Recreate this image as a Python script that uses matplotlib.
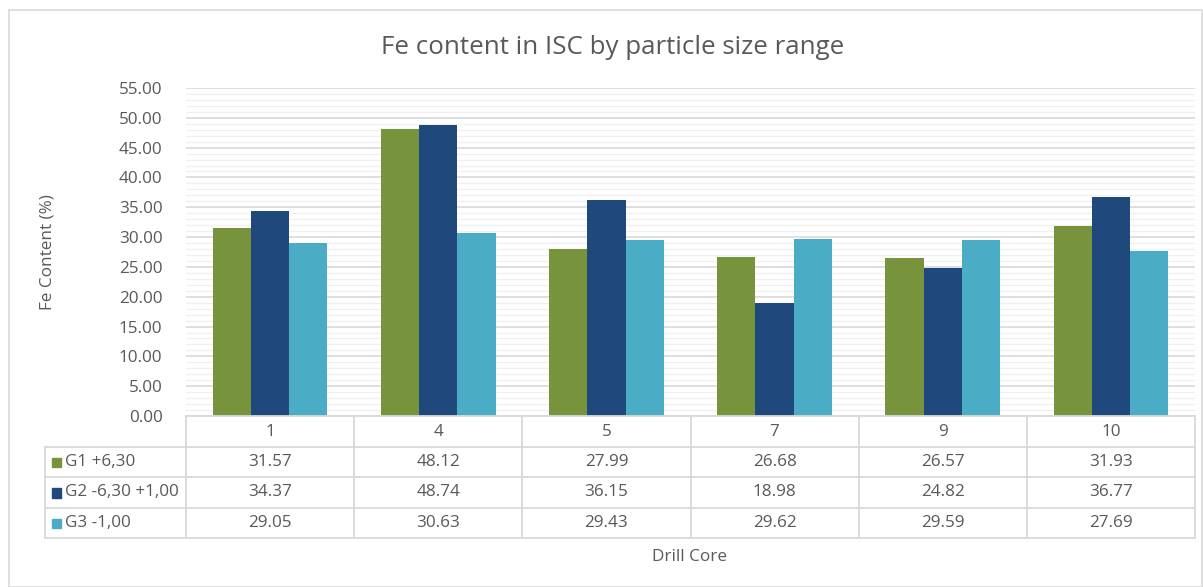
import numpy as np
import matplotlib.pyplot as plt
from matplotlib.patches import Rectangle
from matplotlib.ticker import MultipleLocator

plt.rcParams['font.family'] = ['Open Sans', 'DejaVu Sans']

cores = ['1', '4', '5', '7', '9', '10']
series_names = ['G1 +6,30', 'G2 -6,30 +1,00', 'G3 -1,00']
g1 = [31.57, 48.12, 27.99, 26.68, 26.57, 31.93]
g2 = [34.37, 48.74, 36.15, 18.98, 24.82, 36.77]
g3 = [29.05, 30.63, 29.43, 29.62, 29.59, 27.69]
colors = ['#77933C', '#1F497D', '#4BACC6']

txt = '#595959'
grid_major = '#D9D9D9'
grid_minor = '#F0F0F0'
fs = 12.3

W, H = 1203, 587
fig = plt.figure(figsize=(W / 100, H / 100), dpi=100)

# outer chart border
fig.patches.append(Rectangle((9 / W, 0), (W - 10) / W, (H - 10) / H,
                             transform=fig.transFigure, fill=False,
                             edgecolor='#D9D9D9', lw=1.2))

px0, px1 = 186, 1195
ax = fig.add_axes([px0 / W, 1 - 416 / H, (px1 - px0) / W, (416 - 88) / H])
x = np.arange(len(cores))
bw = 0.227
for i, vals in enumerate([g1, g2, g3]):
    ax.bar(x + (i - 1) * bw, vals, bw, color=colors[i], zorder=3)

ax.set_xlim(-0.5, len(cores) - 0.5)
ax.set_ylim(0, 55)
ax.yaxis.set_major_locator(MultipleLocator(5))
ax.yaxis.set_minor_locator(MultipleLocator(1))
ax.grid(which='major', axis='y', color=grid_major, lw=1.2, zorder=1)
ax.grid(which='minor', axis='y', color=grid_minor, lw=1.0, zorder=0)
ax.set_yticks(np.arange(0, 56, 5))
ax.set_yticklabels([f'{v:.2f}' for v in np.arange(0, 56, 5)])
ax.tick_params(axis='y', which='both', length=0, pad=17, labelsize=fs, labelcolor=txt)
ax.set_xticks([])
for s in ax.spines.values():
    s.set_visible(False)

fig.text(48 / W, 1 - 252 / H, 'Fe Content (%)', rotation=90, ha='center',
         va='center', fontsize=fs, color=txt)
fig.text(613 / W, 1 - 47 / H, 'Fe content in ISC by particle size range',
         ha='center', va='center', fontsize=18.6, color=txt)

# data table under the bars
cat_px = (px1 - px0) / len(cores)
left_w = (px0 - 45) / cat_px
row_px = (538 - 416) / 4
tx = fig.add_axes([45 / W, 1 - 538 / H, (px1 - 45) / W, (538 - 416) / H])
tx.set_xlim(-0.5 - left_w, len(cores) - 0.5)
tx.set_ylim(4, 0)
tx.axis('off')
xl = -0.5 - left_w
xr = len(cores) - 0.5
lc = dict(color=grid_major, lw=1.3, clip_on=False)
tx.plot([-0.5, xr], [0, 0], **lc)
for r in range(1, 5):
    tx.plot([xl, xr], [r, r], **lc)
for c in range(len(cores) + 1):
    tx.plot([c - 0.5, c - 0.5], [0, 4], **lc)
tx.plot([xl, xl], [1, 4], **lc)

sq_w = 9.5 / cat_px
sq_h = 9.5 / row_px
for j, name in enumerate(cores):
    tx.text(j, 0.52, name, ha='center', va='center', fontsize=fs, color=txt)
for i, vals in enumerate([g1, g2, g3]):
    yc = i + 1.5
    tx.add_patch(Rectangle((xl + 7 / cat_px, yc - sq_h / 2 + 0.02), sq_w, sq_h,
                           color=colors[i], clip_on=False))
    tx.text(xl + 20 / cat_px, yc, series_names[i], ha='left', va='center',
            fontsize=fs, color=txt)
    for j, v in enumerate(vals):
        tx.text(j, yc, f'{v:.2f}', ha='center', va='center', fontsize=fs, color=txt)

fig.text(690 / W, 1 - 557 / H, 'Drill Core', ha='center', va='center',
         fontsize=fs, color=txt)

fig.savefig('out.png', dpi=100, facecolor='white')
